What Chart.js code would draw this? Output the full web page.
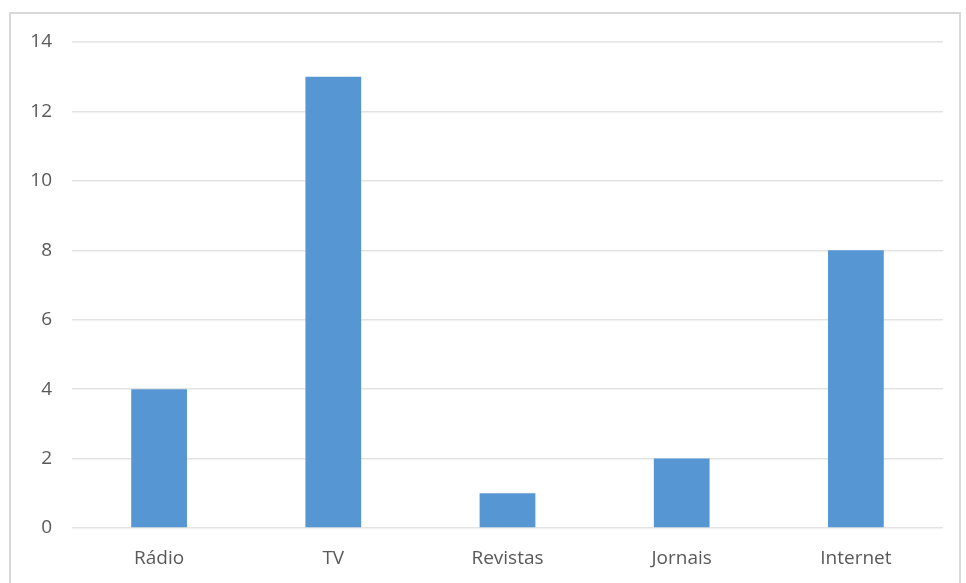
<!DOCTYPE html>
<html>
<head>
<meta charset="utf-8">
<script src="https://cdn.jsdelivr.net/npm/chart.js@4"></script>
<style>
  html, body { margin: 0; padding: 0; background: #fff; }
  #wrap { position: relative; width: 966px; height: 583px; overflow: hidden; }
  #frame { position: absolute; left: 9px; top: 12px; width: 952px; height: 600px; border: 2px solid #d9d9d9; box-sizing: border-box; }
  #chart { position: absolute; left: 0; top: 0; }
</style>
</head>
<body>
<div id="wrap">
  <div id="frame"></div>
  <canvas id="chart" width="966" height="583"></canvas>
</div>
<script>
// Chart values
const categories = ['Rádio', 'TV', 'Revistas', 'Jornais', 'Internet'];
const values = [4, 13, 1, 2, 8];
const yTicks = [0, 2, 4, 6, 8, 10, 12, 14];

const ctx = document.getElementById('chart').getContext('2d');

const chart = new Chart(ctx, {
    type: 'bar',
    data: {
        labels: categories,
        datasets: [{
            data: values,
            backgroundColor: '#5596d3',
            borderWidth: 0,
            barPercentage: 0.32,
            categoryPercentage: 1.0
        }]
    },
    options: {
        responsive: false,
        animation: false,
        layout: {
            padding: { left: 0, right: 23, top: 42, bottom: 0 }
        },
        plugins: {
            legend: { display: false },
            tooltip: { enabled: false }
        },
        scales: {
            x: {
                grid: { display: false },
                border: { display: false },
                ticks: {
                    color: '#595959',
                    font: { family: 'Open Sans', size: 19 },
                    padding: 11
                },
                afterFit: function (scale) { scale.height = 55; }
            },
            y: {
                min: 0,
                max: 14,
                afterBuildTicks: function (scale) {
                    scale.ticks = yTicks.map(v => ({ value: v }));
                },
                grid: { color: '#e3e3e3', lineWidth: 1.5, drawTicks: false },
                border: { display: false },
                ticks: {
                    color: '#595959',
                    font: { family: 'Open Sans', size: 19 },
                    padding: 20
                },
                afterFit: function (scale) { scale.width = 72; }
            }
        }
    }
});
</script>
</body>
</html>
